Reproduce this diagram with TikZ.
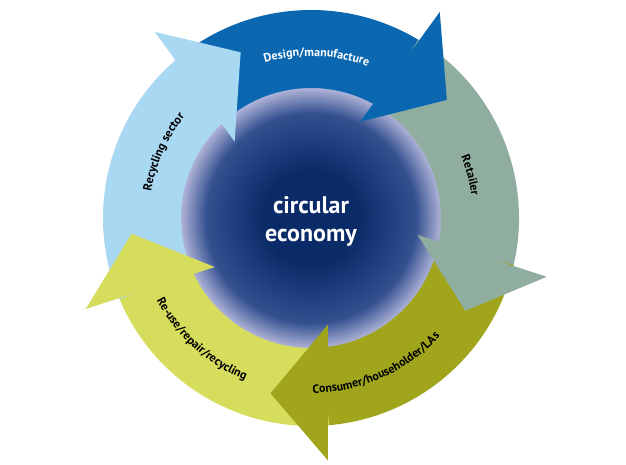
\documentclass[tikz,border=0pt]{standalone}
\usepackage{fontspec}
\setmainfont{PT Sans}
\usetikzlibrary{decorations.text}
\definecolor{cdes}{HTML}{0A67B0}
\definecolor{cret}{HTML}{8FAE9F}
\definecolor{ccon}{HTML}{A0A51C}
\definecolor{creu}{HTML}{D6DC5C}
\definecolor{crec}{HTML}{A9D8F2}
\definecolor{cnavy}{HTML}{0A2A68}
\definecolor{cmid}{HTML}{33508F}
\definecolor{clav}{HTML}{B3B6DA}
\pgfdeclareradialshading{ceDisc}{\pgfpoint{0bp}{0bp}}{color(0bp)=(cnavy); color(9bp)=(cnavy); color(20bp)=(cmid); color(25bp)=(clav); color(50bp)=(clav)}
\newcommand\ceBody[3]{\fill[#1] (#2:208) arc[start angle=#2,end angle=#3,radius=208] -- (#3:130) arc[start angle=#3,end angle=#2,radius=130] -- cycle;}
\newcommand\ceHead[2]{\fill[#1] ({#2+4}:108) -- ({#2-1}:243) -- ({#2-18}:180) -- cycle;}
\tikzset{lbl/.style={decorate,decoration={text along path,text align=center,text color=#1}}}
\begin{document}
\begin{tikzpicture}[x=1pt,y=1pt]
\useasboundingbox (0,0) rectangle (626,464);
\fill[white] (0,0) rectangle (626,464);
\begin{scope}[shift={(311,246)}]
\node[circle,minimum size=262pt,inner sep=0pt,shading=ceDisc] (disc) at (0,0) {};
\ceBody{cdes}{131}{57}
\ceBody{cret}{59}{-15}
\ceBody{ccon}{-13}{-87}
\ceBody{creu}{-85}{-159}
\ceBody{crec}{-157}{-231}
\ceHead{cdes}{59}
\ceHead{cret}{-13}
\ceHead{ccon}{-85}
\ceHead{creu}{-157}
\ceHead{crec}{131}
\node[text=white,font=\bfseries\fontsize{24}{28}\selectfont,align=center] (ce) at (0,-3) {circular\\economy};
\path[lbl=white,decoration={text={|\bfseries\fontsize{12}{14}\selectfont|Design/manufacture}}] (125:162) arc[start angle=125,end angle=51,radius=162];
\path[lbl=black,decoration={text={|\bfseries\fontsize{12}{14}\selectfont|Retailer}}] (45:162) arc[start angle=45,end angle=-15,radius=162];
\path[lbl=black,decoration={text={|\bfseries\fontsize{12}{14}\selectfont|Consumer/householder/LAs}}] (-110:175) arc[start angle=-110,end angle=-22,radius=175];
\path[lbl=black,decoration={text={|\bfseries\fontsize{12}{14}\selectfont|Re-use/repair/recycling}}] (180:175) arc[start angle=180,end angle=276,radius=175];
\path[lbl=black,decoration={text={|\bfseries\fontsize{12}{14}\selectfont|Recycling sector}}] (195:162) arc[start angle=195,end angle=117,radius=162];
\end{scope}
\end{tikzpicture}
\end{document}
